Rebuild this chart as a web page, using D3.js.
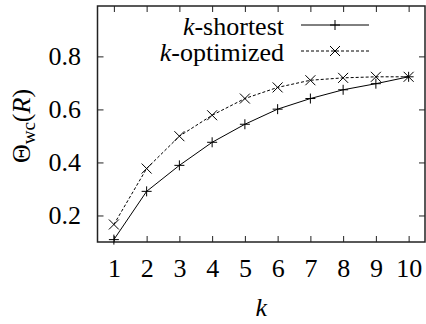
<!DOCTYPE html>
<html><head><meta charset="utf-8">
<script src="https://cdn.jsdelivr.net/npm/d3@7"></script>
<style>body{margin:0;background:#fff}svg{display:block}svg text{font-family:"Liberation Serif","Times New Roman",Times,"DejaVu Serif","Noto Serif",serif;fill:#000}</style>
</head><body>
<svg id="c" width="426" height="324"></svg>
<script>
const ks = [1,2,3,4,5,6,7,8,9,10];
const kShortest = [0.109,0.291,0.389,0.476,0.544,0.601,0.641,0.674,0.697,0.723];
const kOptimized = [0.166,0.377,0.499,0.578,0.641,0.683,0.710,0.719,0.723,0.723];
const yTicks = [0.2,0.4,0.6,0.8];
const seriesNames = ["shortest","optimized"];

const svg = d3.select("#c");
const L=97.5, R=425, T=6, B=242;
const x = d3.scaleLinear().domain([0.5,10.5]).range([L,R]);
const y = d3.scaleLinear().domain([0.1,0.99]).range([B,T]);
const fs = 26, tl = 6;
const axisColor = "#222";

const g = svg.append("g");
const axB = d3.axisBottom(x).tickValues(ks).tickSize(-tl).tickPadding(16.5).tickFormat(d3.format("d"));
const axT = d3.axisTop(x).tickValues(ks).tickSize(-tl).tickFormat("");
const axL = d3.axisLeft(y).tickValues(yTicks).tickSize(-tl).tickPadding(16.5).tickFormat(d3.format(".1f"));
const axR = d3.axisRight(y).tickValues(yTicks).tickSize(-tl).tickFormat("");
function style(sel){
  sel.attr("font-family",null).attr("font-size",null);
  sel.select(".domain").remove();
  sel.selectAll(".tick line").attr("stroke",axisColor).attr("stroke-width",1);
  sel.selectAll(".tick text").attr("font-size",fs).attr("fill","#000");
}
g.append("g").attr("transform",`translate(0,${B})`).call(axB).call(style);
g.append("g").attr("transform",`translate(0,${T})`).call(axT).call(style);
g.append("g").attr("transform",`translate(${L},0)`).call(axL).call(style);
g.append("g").attr("transform",`translate(${R},0)`).call(axR).call(style);

svg.append("rect").attr("x",L).attr("y",T).attr("width",R-L).attr("height",B-T)
  .attr("fill","none").attr("stroke",axisColor).attr("stroke-width",1.5);

const line = d3.line().x((d,i)=>x(ks[i])).y(d=>y(d));
function plus(sel,s){ sel.append("path").attr("d",`M${-s},0H${s}M0,${-s}V${s}`).attr("stroke","#000").attr("stroke-width",1).attr("fill","none"); }
function cross(sel,s){ sel.append("path").attr("d",`M${-s},${-s}L${s},${s}M${-s},${s}L${s},${-s}`).attr("stroke","#000").attr("stroke-width",1).attr("fill","none"); }

svg.append("path").datum(kShortest).attr("d",line).attr("fill","none").attr("stroke","#000").attr("stroke-width",1);
svg.append("path").datum(kOptimized).attr("d",line).attr("fill","none").attr("stroke","#000").attr("stroke-width",1).attr("stroke-dasharray","3,2");
kShortest.forEach((v,i)=>{ plus(svg.append("g").attr("transform",`translate(${x(ks[i])},${y(v)})`),5); });
kOptimized.forEach((v,i)=>{ cross(svg.append("g").attr("transform",`translate(${x(ks[i])},${y(v)})`),5); });

const leg = [{name:seriesNames[0],dash:null,mk:plus,cy:25},{name:seriesNames[1],dash:"3,2",mk:cross,cy:51}];
leg.forEach(d=>{
  const t = svg.append("text").attr("x",284).attr("y",d.cy+9.5).attr("text-anchor","end").attr("font-size",fs);
  t.append("tspan").attr("font-style","italic").text("k");
  t.append("tspan").text("-"+d.name);
  svg.append("line").attr("x1",301).attr("x2",369).attr("y1",d.cy).attr("y2",d.cy).attr("stroke","#000").attr("stroke-width",1).attr("stroke-dasharray",d.dash);
  d.mk(svg.append("g").attr("transform",`translate(335,${d.cy})`),5);
});

svg.append("text").attr("x",(L+R)/2).attr("y",316).attr("text-anchor","middle").attr("font-size",fs).attr("font-style","italic").text("k");
const yl = svg.append("text").attr("transform",`translate(30,${(T+B)/2+2}) rotate(-90)`).attr("text-anchor","middle").attr("font-size",fs);
yl.append("tspan").text("Θ");
yl.append("tspan").attr("font-size",19).attr("dy",5).text("wc");
yl.append("tspan").attr("dy",-5).text("(");
yl.append("tspan").attr("font-style","italic").text("R");
yl.append("tspan").text(")");
</script>
</body></html>
